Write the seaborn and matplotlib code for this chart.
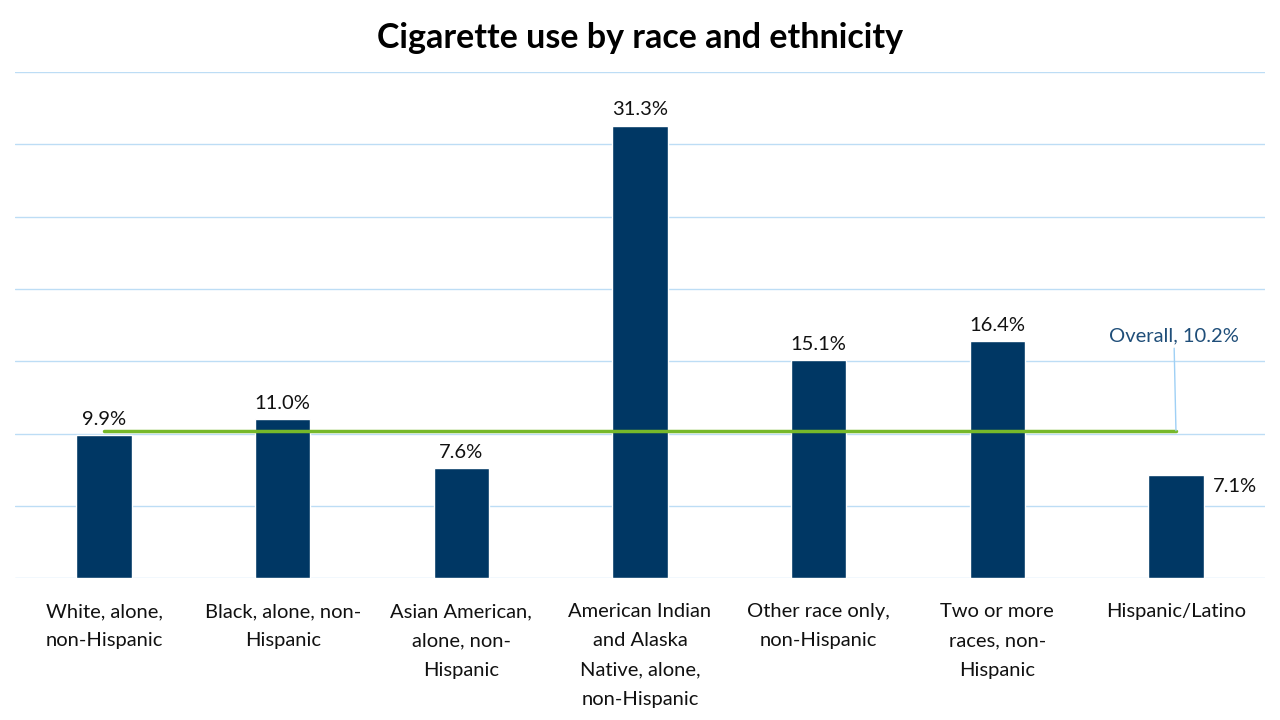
import matplotlib
matplotlib.use("Agg")
import matplotlib.pyplot as plt
import seaborn as sns
import pandas as pd

# data
categories = [
    "White, alone,\nnon-Hispanic",
    "Black, alone, non-\nHispanic",
    "Asian American,\nalone, non-\nHispanic",
    "American Indian\nand Alaska\nNative, alone,\nnon-Hispanic",
    "Other race only,\nnon-Hispanic",
    "Two or more\nraces, non-\nHispanic",
    "Hispanic/Latino",
]
values = [9.9, 11.0, 7.6, 31.3, 15.1, 16.4, 7.1]
overall = 10.2

sns.set_theme(style="white")
plt.rcParams['font.family'] = ['Lato', 'DejaVu Sans']

df = pd.DataFrame({"group": categories, "pct": values})

fig = plt.figure(figsize=(12.8, 7.2), dpi=100)
ax = fig.add_axes([0.0115, 0.197, 0.977, 0.703])

sns.barplot(data=df, x="group", y="pct", color="#003764", width=0.31,
            saturation=1, ax=ax, zorder=2)

# value labels (last one sits beside its bar)
for i, v in enumerate(values):
    if i == len(values) - 1:
        ax.text(i + 0.205, v - 0.75, f"{v:.1f}%", ha="left", va="center",
                fontsize=14.5, color="#111111")
    else:
        ax.text(i, v + 0.5, f"{v:.1f}%", ha="center", va="bottom",
                fontsize=14.5, color="#111111")

# overall line + callout
last = len(categories) - 1
ax.plot([0, last], [overall, overall], color="#76B82A", linewidth=2.5, zorder=3)
ax.plot([last, last - 0.01], [overall, 15.9], color="#9FD0F5", linewidth=1, zorder=3)
ax.text(last - 0.01, 16.2, f"Overall, {overall}%", ha="center", va="bottom",
        fontsize=14.5, color="#1F4E79")

ax.set_xlim(-0.5, len(categories) - 0.5)
ax.set_ylim(0, 35)
ax.set_yticks(range(0, 36, 5))
ax.yaxis.grid(True, color="#BDDDF5", linewidth=1, zorder=0)
ax.set_axisbelow(True)
ax.tick_params(axis="y", left=False, labelleft=False)
ax.tick_params(axis="x", bottom=False, pad=12, labelsize=14.5, colors="#111111")
for lbl in ax.get_xticklabels():
    lbl.set_linespacing(1.88)
    lbl.set_verticalalignment("top")
ax.set_xlabel("")
ax.set_ylabel("")
for s in ax.spines.values():
    s.set_visible(False)

fig.suptitle("Cigarette use by race and ethnicity", y=0.97, fontsize=24.5,
             fontweight="bold", color="#000000")

fig.savefig("out.png", dpi=100, facecolor="white")
